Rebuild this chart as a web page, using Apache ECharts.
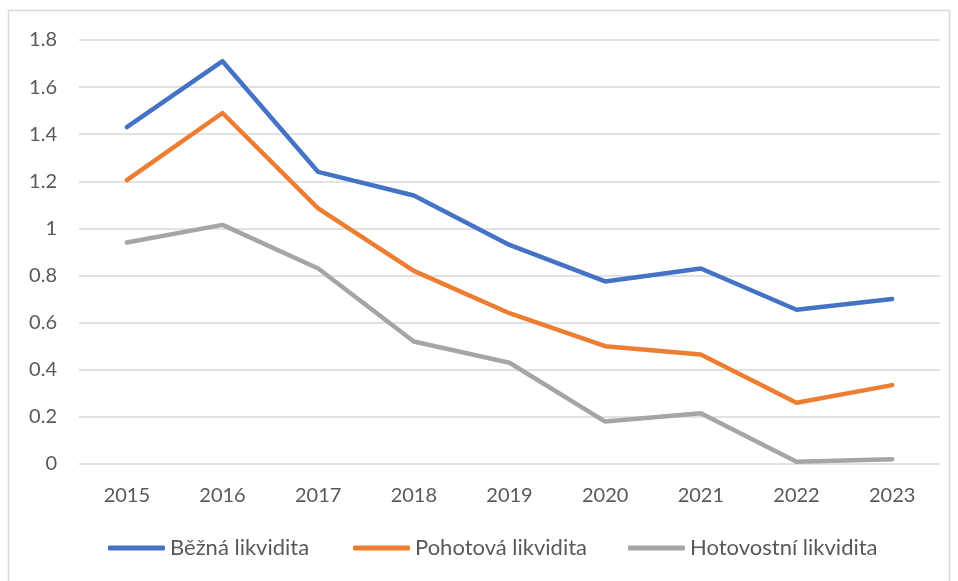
<!DOCTYPE html>
<html>
<head>
<meta charset="utf-8">
<script src="https://cdn.jsdelivr.net/npm/echarts@6/dist/echarts.min.js"></script>
<style>
  html, body { margin: 0; padding: 0; background: #fff; }
  #chart { width: 958px; height: 581px; }
</style>
</head>
<body>
<div id="chart"></div>
<script>
const years = ['2015', '2016', '2017', '2018', '2019', '2020', '2021', '2022', '2023']
const seriesNames = ['Běžná likvidita', 'Pohotová likvidita', 'Hotovostní likvidita']
const bezna = [1.43, 1.71, 1.24, 1.14, 0.93, 0.775, 0.83, 0.655, 0.70]
const pohotova = [1.205, 1.49, 1.085, 0.82, 0.64, 0.50, 0.465, 0.26, 0.335]
const hotovostni = [0.94, 1.015, 0.83, 0.52, 0.43, 0.18, 0.215, 0.01, 0.02]

const chart = echarts.init(document.getElementById('chart'))
const textColor = '#595959'
const font = 'Lato'
const colors = ['#4472C4', '#ED7D31', '#A5A5A5']
const legendLeft = [108, 353, 628]

function lineSeries(name, data, color) {
  return {
    name: name,
    type: 'line',
    data: data,
    symbol: 'none',
    lineStyle: { color: color, width: 4.5, cap: 'round', join: 'round' },
    itemStyle: { color: color },
    animation: false
  }
}

// one legend per item so each sits where it does in the original
const legends = seriesNames.map((name, i) => ({
  top: 537,
  left: legendLeft[i],
  padding: 0,
  itemWidth: 57,
  itemHeight: 5,
  icon: 'roundRect',
  textStyle: { color: textColor, fontFamily: font, fontSize: 22 },
  data: [name]
}))

chart.setOption({
  backgroundColor: '#fff',
  color: colors,
  graphic: [
    {
      type: 'rect',
      shape: { x: 8.5, y: 10.5, width: 941, height: 580 },
      style: { fill: 'none', stroke: '#d9d9d9', lineWidth: 1.5 },
      silent: true
    }
  ],
  grid: {
    left: 79,
    right: 18,
    top: 40,
    bottom: 117
  },
  xAxis: {
    type: 'category',
    data: years,
    boundaryGap: true,
    axisTick: { show: false },
    axisLine: { show: false },
    axisLabel: {
      color: textColor,
      fontFamily: font,
      fontSize: 20,
      margin: 22
    }
  },
  yAxis: {
    type: 'value',
    min: 0,
    max: 1.8,
    interval: 0.2,
    axisLine: { show: false },
    axisTick: { show: false },
    axisLabel: {
      color: textColor,
      fontFamily: font,
      fontSize: 20,
      margin: 22,
      formatter: v => String(Math.round(v * 10) / 10)
    },
    splitLine: { lineStyle: { color: '#d9d9d9', width: 1.5 } }
  },
  legend: legends,
  series: [
    lineSeries(seriesNames[0], bezna, colors[0]),
    lineSeries(seriesNames[1], pohotova, colors[1]),
    lineSeries(seriesNames[2], hotovostni, colors[2])
  ]
})
</script>
</body>
</html>
